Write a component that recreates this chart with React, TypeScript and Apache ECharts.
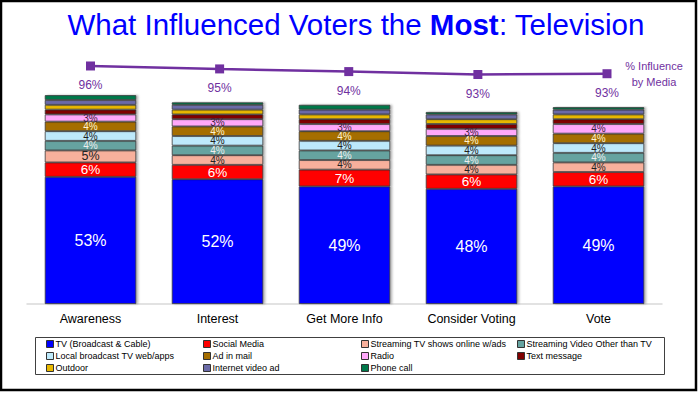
import React, { useEffect, useRef } from "react";
import * as echarts from "echarts";

const FONT = '"Liberation Sans", Arial, sans-serif';

const categories = ["Awareness", "Interest", "Get More Info", "Consider Voting", "Vote"];
const tv = [53, 52, 49, 48, 49];
const social = [6, 6, 7, 6, 6];
const streamingTV = [5, 4, 4, 4, 4];
const streamingVideo = [4, 4, 4, 4, 4];
const localBroadcast = [4, 4, 4, 4, 4];
const adMail = [4, 4, 4, 4, 4];
const radio = [3, 3, 3, 3, 4];
const textMsg = [2, 2, 2, 2, 2];
const outdoor = [2, 2, 2, 2, 2];
const internetVideo = [2, 2, 2, 2, 2];
const phoneCall = [2, 1, 2, 1, 1];
const influence = [96.0, 94.9, 93.9, 92.8, 93.1];

const SERIES = [
  { name: "TV (Broadcast & Cable)", values: tv, color: "#0000FF", label: "#FFFFFF" },
  { name: "Social Media", values: social, color: "#FF0000", label: "#FFFFFF" },
  { name: "Streaming TV shows online w/ads", values: streamingTV, color: "#F8B09C", label: "#222222" },
  { name: "Streaming Video Other than TV", values: streamingVideo, color: "#66A3A0", label: "#EEEEEE" },
  { name: "Local broadcast TV web/apps", values: localBroadcast, color: "#BDE9FB", label: "#222222" },
  { name: "Ad in mail", values: adMail, color: "#A56E00", label: "#FFF3D0" },
  { name: "Radio", values: radio, color: "#FFA8FA", label: "#3A2040" },
  { name: "Text message", values: textMsg, color: "#800000", label: "#FFFFFF" },
  { name: "Outdoor", values: outdoor, color: "#E8B800", label: "#222222" },
  { name: "Internet video ad", values: internetVideo, color: "#6B6BA8", label: "#FFFFFF" },
  { name: "Phone call", values: phoneCall, color: "#00784A", label: "#FFFFFF" },
];

const legendColumns = [
  ["TV (Broadcast & Cable)", "Local broadcast TV web/apps", "Outdoor"],
  ["Social Media", "Ad in mail", "Internet video ad"],
  ["Streaming TV shows online w/ads", "Radio", "Phone call"],
  ["Streaming Video Other than TV", "Text message"],
];
const legendX = [46, 203, 361, 517];

export default function App() {
  const ref = useRef<HTMLDivElement>(null);
  useEffect(() => {
    if (!ref.current) return;
    const chart = echarts.init(ref.current, null, { renderer: "svg" });
    const barSeries = SERIES.map((s) => ({
      type: "bar",
      name: s.name,
      stack: "total",
      xAxisIndex: 0,
      yAxisIndex: 0,
      barCategoryGap: "28%",
      itemStyle: {
        color: s.color,
        borderColor: "#3a3a3a",
        borderWidth: 0.8,
        shadowColor: "rgba(0,0,0,0.3)",
        shadowOffsetX: 2,
        shadowBlur: 2,
      },
      label: {
        show: true,
        position: "inside",
        color: s.label,
        fontFamily: FONT,
        formatter: "{c}%",
      },
      data: s.values.map((v) => ({
        value: v,
        label:
          v >= 5
            ? { show: true, fontSize: v >= 20 ? 16 : v >= 6 ? 13.5 : 12.5 }
            : { show: v >= 3, fontSize: 10, lineHeight: Math.min(8.5, v * 2.4 - 0.6) },
      })),
    }));
    chart.setOption({
      animation: false,
      backgroundColor: "#FFFFFF",
      title: {
        text: "{a|What Influenced Voters the }{b|Most}{a|: Television}",
        left: 351,
        textAlign: "center",
        top: 4,
        textStyle: {
          fontWeight: "normal",
          rich: {
            a: { fontSize: 29.5, color: "#0000FF", fontFamily: FONT, fontWeight: "normal" },
            b: { fontSize: 29.5, color: "#0000FF", fontFamily: FONT, fontWeight: "bold" },
          },
        },
      },
      grid: [
        { left: 27, width: 635, top: 64, height: 240 },
        { left: 90.5, width: 516.5, top: 55.3, height: 26.7 },
      ],
      xAxis: [
        {
          type: "category",
          gridIndex: 0,
          data: categories,
          axisLine: { lineStyle: { color: "#D9D9D9", width: 1.5 } },
          axisTick: { show: false },
          axisLabel: { color: "#000", fontSize: 12.5, fontFamily: FONT, margin: 8 },
        },
        { type: "category", gridIndex: 1, data: categories, boundaryGap: false, show: false },
      ],
      yAxis: [
        { type: "value", gridIndex: 0, min: 0, max: 100, show: false },
        { type: "value", gridIndex: 1, min: 90, max: 100, show: false },
      ],
      legend: legendColumns.map((names, i) => ({
        orient: "vertical",
        left: legendX[i],
        top: 338,
        padding: 0,
        itemWidth: 7,
        itemHeight: 7,
        itemGap: 0,
        icon: "rect",
        selectedMode: false,
        data: names,
        itemStyle: { borderColor: "#333", borderWidth: 1 },
        textStyle: { fontSize: 9, fontFamily: FONT, color: "#000", lineHeight: 12, padding: [0, 0, 0, -3] },
      })),
      series: [
        ...barSeries,
        {
          type: "line",
          name: "% Influence by Media",
          xAxisIndex: 1,
          yAxisIndex: 1,
          data: influence,
          symbol: "rect",
          symbolSize: 9,
          lineStyle: { color: "#7030A0", width: 2.5 },
          itemStyle: { color: "#7030A0" },
          label: {
            show: true,
            position: "bottom",
            distance: 9,
            color: "#7030A0",
            fontSize: 12,
            fontFamily: FONT,
            formatter: (p: any) => Math.round(p.value) + "%",
          },
        },
      ],
      graphic: [
        {
          type: "rect",
          shape: { x: 1, y: 1, width: 695, height: 389 },
          style: { fill: "none", stroke: "#000", lineWidth: 2.5 },
          silent: true,
        },
        {
          type: "rect",
          shape: { x: 35.5, y: 337.5, width: 629, height: 37 },
          style: { fill: "none", stroke: "#404040", lineWidth: 1 },
          silent: true,
        },
        {
          type: "text",
          x: 654,
          y: 58,
          style: {
            text: "% Influence\nby Media",
            fill: "#7030A0",
            fontSize: 11,
            fontFamily: FONT,
            lineHeight: 16,
            align: "center",
          },
          silent: true,
        },
      ],
    });
    return () => chart.dispose();
  }, []);
  return (
    <div
      ref={ref}
      style={{ position: "fixed", left: 0, top: 0, width: 700, height: 393 }}
    />
  );
}
